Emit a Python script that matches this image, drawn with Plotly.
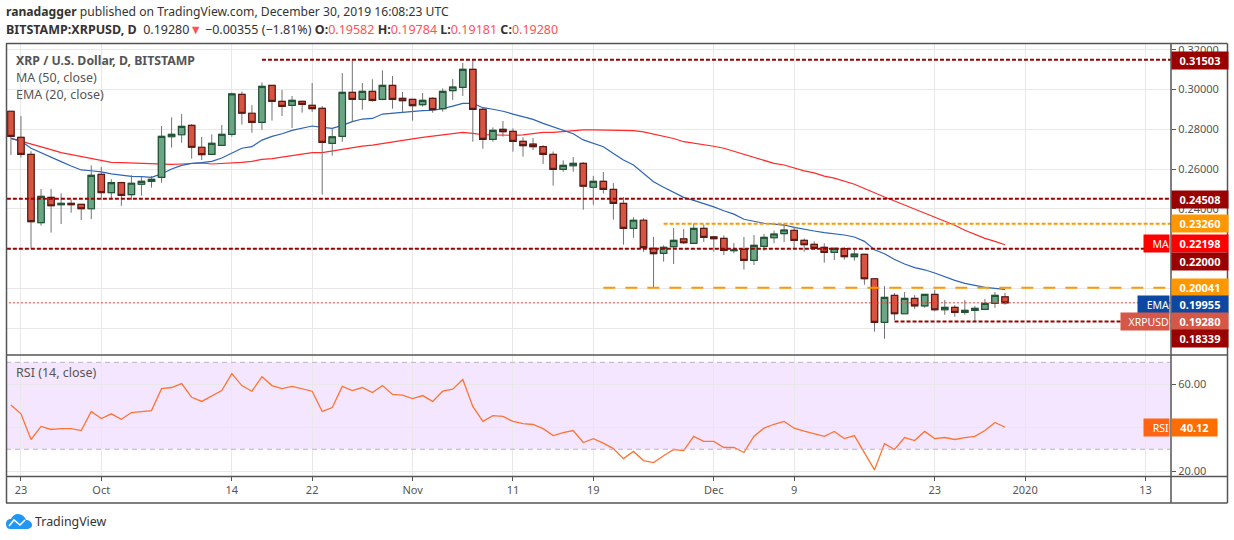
import pandas as pd
import plotly.graph_objects as go

FONT = "Noto Sans"
dates = [d.strftime("%Y-%m-%d") for d in pd.date_range("2019-09-22", "2019-12-30")]

opens = [.2891,.2760,.2674,.2331,.2458,.2421,.2428,.2423,.2401,.2574,.2482,.2532,.2472,.2524,.2539,.2559,.2763,.2773,.2820,.2710,
         .2674,.2720,.2775,.2976,.2881,.2835,.3021,.2941,.2921,.2941,.2921,.2906,.2730,.2765,.2986,.2951,.2991,.2951,.3021,.2956,
         .2951,.2924,.2956,.2904,.2995,.3011,.3102,.2901,.2750,.2800,.2790,.2740,.2726,.2713,.2674,.2599,.2617,.2629,.2509,.2539,
         .2498,.2428,.2302,.2343,.2202,.2177,.2210,.2249,.2227,.2302,.2259,.2252,.2190,.2197,.2141,.2212,.2255,.2276,.2292,.2242,
         .2222,.2207,.2182,.2200,.2160,.2172,.2049,.1830,.1965,.1873,.1950,.1913,.1970,.1893,.1905,.1880,.1890,.1895,.1925,.19582]
highs = [.2891,.2867,.2690,.2500,.2500,.2478,.2448,.2425,.2619,.2611,.2549,.2537,.2569,.2564,.2566,.2817,.2860,.2877,.2827,.2762,
         .2775,.2822,.2985,.2991,.2922,.3036,.3021,.2998,.2968,.2941,.3033,.2917,.2805,.3083,.3150,.3033,.3052,.3097,.3068,.2988,
         .2951,.2983,.2961,.3006,.3053,.3134,.3150,.2912,.2810,.2842,.2805,.2760,.2757,.2721,.2689,.2644,.2661,.2636,.2566,.2586,
         .2530,.2460,.2358,.2353,.2259,.2217,.2304,.2299,.2327,.2322,.2264,.2267,.2229,.2259,.2269,.2274,.2291,.2327,.2311,.2252,
         .2237,.2227,.2205,.2207,.2194,.2172,.2049,.2012,.1977,.1982,.1967,.1970,.1992,.1942,.1917,.1942,.1912,.1947,.1982,.19784]
lows = [.2671,.2658,.2202,.2316,.2281,.2324,.2381,.2344,.2349,.2445,.2453,.2416,.2445,.2467,.2507,.2532,.2708,.2733,.2653,.2646,
        .2674,.2716,.2763,.2824,.2783,.2798,.2844,.2867,.2807,.2884,.2887,.2472,.2668,.2738,.2839,.2899,.2939,.2946,.2904,.2884,
        .2844,.2914,.2884,.2889,.2948,.2968,.2738,.2703,.2738,.2763,.2688,.2663,.2696,.2626,.2517,.2587,.2587,.2396,.2421,.2477,
        .2346,.2220,.2255,.2185,.2004,.2135,.2123,.2224,.2227,.2234,.2185,.2168,.2177,.2095,.2118,.2190,.2227,.2234,.2202,.2185,
        .2194,.2130,.2143,.2145,.2140,.2019,.1783,.1747,.1841,.1873,.1897,.1903,.1885,.1868,.1858,.1868,.1836,.1895,.1903,.19181]
closes = [.2765,.2674,.2336,.2463,.2416,.2428,.2421,.2401,.2569,.2482,.2532,.2468,.2529,.2539,.2549,.2765,.2775,.2815,.2710,.2673,
          .2730,.2775,.2978,.2881,.2835,.3016,.2941,.2916,.2946,.2926,.2904,.2735,.2763,.2986,.2951,.2991,.2946,.3021,.2951,.2944,
          .2919,.2946,.2899,.2991,.3013,.3102,.2901,.2750,.2795,.2788,.2740,.2718,.2713,.2674,.2599,.2619,.2629,.2514,.2539,.2498,
          .2428,.2302,.2343,.2205,.2175,.2207,.2242,.2230,.2302,.2257,.2250,.2192,.2194,.2141,.2217,.2257,.2274,.2294,.2242,.2220,
          .2202,.2182,.2202,.2160,.2173,.2049,.1830,.1955,.1873,.1950,.1913,.1970,.1893,.1905,.1880,.1890,.1900,.1925,.1965,.19280]

ma50 = [.2755,.2741,.2726,.2715,.2698,.2683,.2673,.2663,.2654,.2644,.2634,.2633,.2631,.2629,.2628,.2624,.2624,.2626,.2629,.2631,
        .2626,.2628,.2633,.2634,.2639,.2649,.2653,.2661,.2668,.2674,.2683,.2683,.2691,.2701,.2708,.2716,.2721,.2728,.2735,.2745,
        .2752,.2760,.2767,.2773,.2780,.2785,.2780,.2773,.2772,.2770,.2770,.2772,.2778,.2785,.2785,.2790,.2795,.2797,.2797,.2797,
        .2797,.2797,.2794,.2787,.2777,.2767,.2754,.2738,.2730,.2725,.2715,.2705,.2690,.2674,.2659,.2644,.2629,.2621,.2606,.2591,
        .2581,.2565,.2555,.2540,.2524,.2503,.2480,.2460,.2440,.2420,.2400,.2379,.2359,.2336,.2318,.2293,.2272,.2252,.2237,.22198]
ema20 = [.2755,.2741,.2705,.2684,.2663,.2638,.2616,.2596,.2592,.2586,.2576,.2569,.2564,.2562,.2559,.2576,.2601,.2619,.2629,.2633,
         .2639,.2656,.2681,.2705,.2713,.2746,.2765,.2778,.2795,.2807,.2817,.2810,.2805,.2820,.2839,.2852,.2855,.2877,.2882,.2886,
         .2891,.2894,.2896,.2904,.2917,.2931,.2931,.2909,.2901,.2891,.2877,.2864,.2850,.2830,.2812,.2793,.2778,.2747,.2730,.2713,
         .2679,.2646,.2621,.2579,.2537,.2509,.2483,.2458,.2443,.2428,.2410,.2391,.2374,.2348,.2338,.2328,.2324,.2319,.2307,.2297,
         .2289,.2281,.2276,.2269,.2259,.2237,.2195,.2175,.2146,.2123,.2105,.2094,.2078,.2059,.2041,.2026,.2016,.2006,.2001,.19955]
rsi = [50.4,46.3,34.5,40.5,39.1,39.5,39.5,38.6,47.4,44.1,46.3,43.8,46.9,47.4,47.8,57.9,58.4,60.2,53.9,52.0,
       54.6,57.0,64.8,59.3,56.7,63.4,59.3,57.9,58.9,57.9,56.7,47.4,49.2,58.9,57.0,58.4,56.1,59.3,55.2,54.9,
       53.3,54.7,52.0,56.7,57.6,62.1,49.7,42.8,45.5,45.1,42.8,41.8,41.4,39.5,36.3,37.7,38.6,33.1,34.9,32.8,
       30.3,25.7,29.0,24.8,23.9,27.0,29.9,29.4,35.9,33.6,33.6,30.8,30.8,28.5,36.0,39.7,41.5,42.8,39.7,38.3,
       37.2,35.9,38.2,34.9,36.3,28.5,20.5,32.6,29.9,35.4,34.0,38.2,34.9,35.4,34.5,35.4,35.9,38.6,42.3,40.12]

time_tick_vals = ["2019-09-23", "2019-10-01", "2019-10-14", "2019-10-22", "2019-11-01", "2019-11-11",
                  "2019-11-19", "2019-12-01", "2019-12-09", "2019-12-23", "2020-01-01", "2020-01-13"]
time_tick_text = ["23", "Oct", "14", "22", "Nov", "11", "19", "Dec", "9", "23", "2020", "13"]
price_ticks = [0.32, 0.30, 0.28, 0.26, 0.24, 0.22, 0.20, 0.18]
# the grid rows behind the coloured tags carry no visible number in the reference
price_tick_text = ["0.32000", "0.30000", "0.28000", "0.26000", "0.24000", "", "", ""]
rsi_ticks = [60, 40, 20]
rsi_tick_text = ["60.00", "", "20.00"]

# level, first date, colour, dash, width
levels = [
    (0.31503, "2019-10-17", "#990000", "4px,2px", 2),
    (0.24508, "2019-09-21", "#990000", "4px,2px", 2),
    (0.23260, "2019-11-26", "#FF9800", "4px,2px", 2),
    (0.22000, "2019-09-21", "#990000", "4px,2px", 2),
    (0.20041, "2019-11-20", "#FF9800", "12px,10px", 2),
    (0.18339, "2019-12-19", "#990000", "4px,2px", 2),
    (0.19280, "2019-09-21", "#E53935", "2px,2px", 1),
]
# value text, box centre row in pixels, colour
axis_tags = [
    ("0.31503", 60, "#990000"), ("0.24508", 199.5, "#990000"), ("0.23260", 223.5, "#FF9800"),
    ("0.22198", 244, "#FF0000"), ("0.22000", 261, "#990000"), ("0.20041", 287, "#FF9800"),
    ("0.19955", 304, "#0D47A1"), ("0.19280", 321, "#D65745"), ("0.18339", 338, "#990000"),
]
side_tags = [("MA", 1143, 244, "#FF0000"), ("EMA", 1137, 304, "#0D47A1"),
             ("XRPUSD", 1120, 321, "#D65745"), ("RSI", 1143, 427, "#FF6414")]

L, R, T, B = 6, 1171, 44, 476
fx = lambda X: (X - L) / (R - L)
fy = lambda Y: (B - Y) / (B - T)

fig = go.Figure()
fig.add_trace(go.Scatter(x=dates, y=ma50, mode="lines", line=dict(color="#FF2A2A", width=1.2), yaxis="y", xaxis="x"))
fig.add_trace(go.Scatter(x=dates, y=ema20, mode="lines", line=dict(color="#2E63B8", width=1.2), yaxis="y", xaxis="x"))

wick = "#737375"
fig.add_trace(go.Candlestick(
    x=dates, open=opens, high=highs, low=lows, close=closes, whiskerwidth=0, zorder=1,
    increasing=dict(line=dict(color=wick, width=1), fillcolor=wick),
    decreasing=dict(line=dict(color=wick, width=1), fillcolor=wick), xaxis="x", yaxis="y"))
fig.add_trace(go.Candlestick(
    x=dates, open=opens, close=closes, whiskerwidth=0, zorder=2,
    high=[max(a, b) for a, b in zip(opens, closes)], low=[min(a, b) for a, b in zip(opens, closes)],
    increasing=dict(line=dict(color="#225437", width=1.2), fillcolor="#6BA583"),
    decreasing=dict(line=dict(color="#5B1A13", width=1.2), fillcolor="#D75442"), xaxis="x", yaxis="y"))
fig.add_trace(go.Scatter(x=dates, y=rsi, mode="lines", line=dict(color="#FF7433", width=1.3), xaxis="x", yaxis="y2"))

shapes = []
for lvl, start, col, dash, w in levels:
    shapes.append(dict(type="line", xref="x", yref="y", x0=start, x1="2020-01-16", y0=lvl, y1=lvl,
                       line=dict(color=col, width=w, dash=dash)))
shapes.append(dict(type="rect", xref="paper", yref="y2", x0=0, x1=fx(1170), y0=30, y1=70,
                   fillcolor="#F4E6FE", line_width=0, layer="below"))
for v in (70, 30):
    shapes.append(dict(type="line", xref="paper", yref="y2", x0=0, x1=fx(1170), y0=v, y1=v,
                       line=dict(color="#BFB0C8", width=1, dash="5px,4px")))
frame = "#555555"
def frame_line(x0, y0, x1, y1, w=1.5):
    shapes.append(dict(type="line", xref="paper", yref="paper", x0=fx(x0), x1=fx(x1), y0=fy(y0), y1=fy(y1),
                       line=dict(color=frame, width=w)))
frame_line(6, 43.5, 1227.5, 43.5)
frame_line(6, 503, 1227.5, 503)
frame_line(6.5, 43.5, 6.5, 503)
frame_line(1227.5, 43.5, 1227.5, 503)
frame_line(1171, 43.5, 1171, 503)
frame_line(6, 355, 1227.5, 355)
frame_line(6, 476.5, 1227.5, 476.5)

def px_path(cmds):
    out = []
    for c in cmds:
        if isinstance(c, str):
            out.append(c)
        else:
            out.append(f"{fx(c[0]):.5f} {fy(c[1]):.5f}")
    return " ".join(out)
cloud = px_path(["M", (10, 529), "C", (7, 529), (6, 526), (6, 524), "C", (6, 521), (8, 519), (11, 519),
                 "C", (12, 516), (15, 514), (18, 514), "C", (22, 514), (25, 517), (26, 520),
                 "C", (29, 520), (32, 522), (32, 525), "C", (32, 528), (29, 529), (27, 529), "Z"])
zig = px_path(["M", (9, 526), "L", (14, 520), "L", (20, 525), "L", (25, 520)])
shapes.append(dict(type="path", xref="paper", yref="paper", path=cloud, fillcolor="#2196F3", line_width=0))
shapes.append(dict(type="path", xref="paper", yref="paper", path=zig, line=dict(color="white", width=1.6)))

ann = []
def text(X, Y, s, size=13, color="#555555", anchor="left", **kw):
    ann.append(dict(xref="paper", yref="paper", x=fx(X), y=fy(Y), text=s, showarrow=False, xanchor=anchor,
                    yanchor="middle", font=dict(family=FONT, size=size, color=color), align="left", borderpad=0,
                    **kw))

red = "#FF5252"
text(5, 12, "<b>ranadagger</b> published on TradingView.com, December 30, 2019 16:08:23 UTC", color="#333333", size=12.15)
text(5, 30, f"<b>BITSTAMP:XRPUSD, D</b>  0.19280<span style='color:{red}'>▼</span> −0.00355 (−1.81%) "
            f"<b>O:</b><span style='color:{red}'>0.19582</span> <b>H:</b><span style='color:{red}'>0.19784</span> "
            f"<b>L:</b><span style='color:{red}'>0.19181</span> <b>C:</b><span style='color:{red}'>0.19280</span>",
     color="#333333", size=12.5)
text(15, 60.5, "<b>XRP / U.S. Dollar, D, BITSTAMP</b>", size=12.3)
text(15, 77.5, "MA (50, close)", size=12.5)
text(15, 94.5, "EMA (20, close)", size=12.5)
text(15, 372, "RSI (14, close)", size=12.5)
text(34, 521, "TradingView", size=12.4, color="#333333")

for s, y, col in axis_tags:
    ann.append(dict(xref="paper", yref="paper", x=fx(1171), y=fy(y), text=f"<b>{s}</b>", showarrow=False, xanchor="left",
                    yanchor="middle", width=56, height=17, bgcolor=col, borderpad=0, align="center",
                    font=dict(family=FONT, size=11, color="white")))
ann.append(dict(xref="paper", yref="paper", x=fx(1171), y=fy(427), text="<b>40.12</b>", showarrow=False, xanchor="left",
                yanchor="middle", width=45, height=17, bgcolor="#FF6D00", borderpad=0, align="center",
                font=dict(family=FONT, size=11, color="white")))
for s, x0, y, col in side_tags:
    ann.append(dict(xref="paper", yref="paper", x=fx(x0), y=fy(y), text=s, showarrow=False, xanchor="left",
                    yanchor="middle", width=1168 - x0, height=17, bgcolor=col, borderpad=0, align="right",
                    font=dict(family=FONT, size=10.5, color="white")))

grid = "#E8E8E8"
tick_font = dict(size=11, color="#555555")
fig.update_layout(
    width=1234, height=540, margin=dict(l=L, r=1234 - R, t=T, b=540 - B, autoexpand=False),
    paper_bgcolor="white", plot_bgcolor="white", showlegend=False,
    boxmode="overlay", boxgap=0.36, boxgroupgap=0,
    font=dict(family=FONT, size=11, color="#555555"),
    xaxis=dict(type="date", anchor="y2", range=["2019-09-21 12:15", "2020-01-15 12:45"],
               tickmode="array", tickvals=time_tick_vals, ticktext=time_tick_text,
               ticks="outside", ticklen=4, tickcolor=frame, showgrid=True, gridcolor=grid, gridwidth=1,
               zeroline=False, showline=False, rangeslider=dict(visible=False), tickangle=0,
               tickfont=tick_font),
    yaxis=dict(domain=[fy(355), 1], range=[0.16656, 0.32292], side="right", anchor="x",
               tickmode="array", tickvals=price_ticks, ticktext=price_tick_text,
               ticks="outside", ticklen=4, tickcolor=frame, showgrid=True, gridcolor=grid, gridwidth=1,
               zeroline=False, showline=False, tickfont=tick_font),
    yaxis2=dict(domain=[0, fy(356)], range=[17.7, 72.9], side="right", anchor="x",
                tickmode="array", tickvals=rsi_ticks, ticktext=rsi_tick_text,
                ticks="outside", ticklen=4, tickcolor=frame, showgrid=True, gridcolor=grid, gridwidth=1,
                zeroline=False, showline=False, tickfont=tick_font),
    shapes=shapes, annotations=ann,
)
fig.write_html("out.html", config=dict(displayModeBar=False),
               post_script="document.body.style.margin='0';document.body.style.overflow='hidden';")
